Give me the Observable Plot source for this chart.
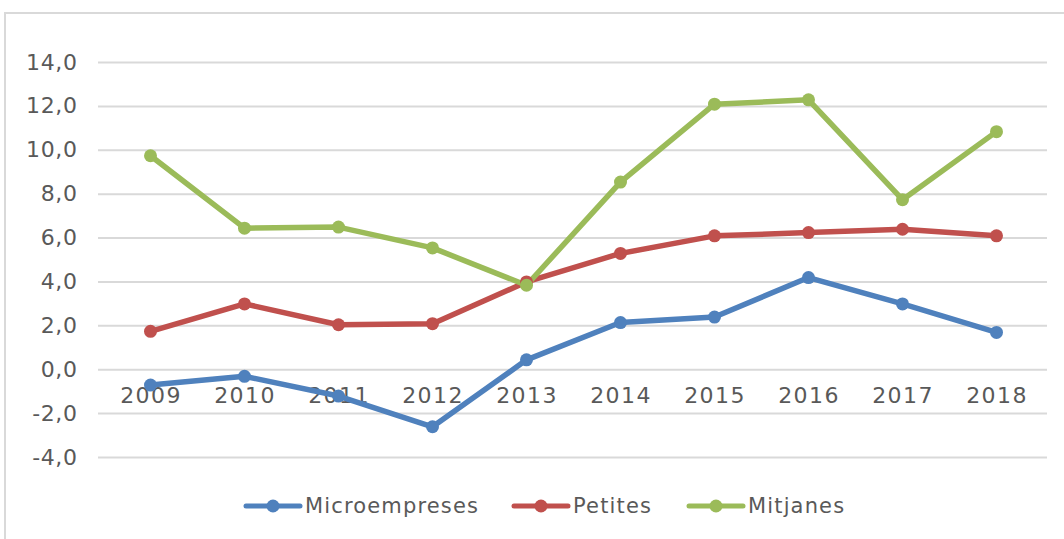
<!DOCTYPE html>
<html>
<head>
<meta charset="utf-8">
<script src="https://cdn.jsdelivr.net/npm/d3@7"></script>
<script src="https://cdn.jsdelivr.net/npm/@observablehq/plot@0.6"></script>
<style>
  html, body { margin: 0; padding: 0; background: #fff; }
  body { width: 1064px; height: 539px; overflow: hidden; position: relative; font-family: "DejaVu Sans", sans-serif; }
  #frame { position: absolute; left: 4px; top: 12px; width: 1100px; height: 600px; border-left: 2px solid #d9d9d9; border-top: 2px solid #d9d9d9; box-sizing: border-box; }
  #chart { position: absolute; left: 0; top: 0; }
  #legend { position: absolute; top: 491px; left: 0; width: 1064px; height: 30px; }
  .item { position: absolute; top: 0; display: flex; align-items: center; height: 30px; color: #595959; font-size: 21px; letter-spacing: 1.15px; }
  .item svg { margin-right: 2px; }
</style>
</head>
<body>
<div id="frame"></div>
<div id="chart"></div>
<div id="legend"></div>
<script>
const years = [2009, 2010, 2011, 2012, 2013, 2014, 2015, 2016, 2017, 2018];
const seriesNames = ["Microempreses", "Petites", "Mitjanes"];
const microempreses = [-0.7, -0.3, -1.2, -2.6, 0.45, 2.15, 2.4, 4.2, 3.0, 1.7];
const petites = [1.75, 3.0, 2.05, 2.1, 4.0, 5.3, 6.1, 6.25, 6.4, 6.1];
const mitjanes = [9.75, 6.45, 6.5, 5.55, 3.85, 8.55, 12.1, 12.3, 7.75, 10.85];
const colors = ["#4F81BD", "#C0504D", "#9BBB59"];
const yTicks = [-4, -2, 0, 2, 4, 6, 8, 10, 12, 14];

const values = [microempreses, petites, mitjanes];
const data = [];
seriesNames.forEach((s, i) => years.forEach((yr, j) => data.push({series: s, year: yr, value: values[i][j]})));

const fmt = d => d.toFixed(1).replace(".", ",");

const chart = Plot.plot({
  width: 1064,
  height: 480,
  marginLeft: 98,
  marginRight: 17,
  marginTop: 62,
  marginBottom: 23,
  style: { fontFamily: "'DejaVu Sans', sans-serif", fontSize: "22px", color: "#595959", background: "transparent" },
  x: { type: "point", domain: years, padding: 0.5, axis: null },
  y: { domain: [-4, 14], axis: null },
  color: { domain: seriesNames, range: colors },
  marks: [
    Plot.ruleY(yTicks, { stroke: "#d9d9d9", strokeWidth: 2 }),
    Plot.axisY(yTicks, { tickSize: 0, tickPadding: 21, tickFormat: fmt, fill: "#595959", fontSize: 22, label: null }),
    Plot.text(years, { x: d => d, y: () => 0, dy: 26, dx: 0.5, text: d => String(d), fill: "#595959", fontSize: 22 }),
    Plot.line(data, { x: "year", y: "value", z: "series", stroke: "series", strokeWidth: 5.5, strokeLinejoin: "round", strokeLinecap: "round" }),
    Plot.dot(data, { x: "year", y: "value", fill: "series", r: 6.5 })
  ]
});
d3.select(chart).selectAll("text").each(function() {
  const t = this.textContent;
  if (/^\d{4}$/.test(t)) this.style.letterSpacing = "1.4px";
  else if (/,/.test(t)) this.style.letterSpacing = "0.6px";
});
document.getElementById("chart").appendChild(chart);

const legendPos = [243, 511, 686];
const legend = document.getElementById("legend");
seriesNames.forEach((s, i) => {
  const item = document.createElement("div");
  item.className = "item";
  item.style.left = legendPos[i] + "px";
  item.innerHTML = `<svg width="60" height="20"><line x1="3" y1="10" x2="57" y2="10" stroke="${colors[i]}" stroke-width="5" stroke-linecap="round"/><circle cx="30" cy="10" r="6.5" fill="${colors[i]}"/></svg><span>${s}</span>`;
  legend.appendChild(item);
});
</script>
</body>
</html>
